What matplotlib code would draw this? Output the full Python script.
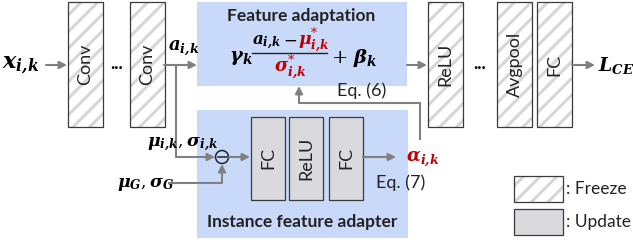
import matplotlib.pyplot as plt
import matplotlib.patches as mpatches

plt.rcParams['font.family'] = ['Lato', 'DejaVu Sans']
plt.rcParams['mathtext.fontset'] = 'dejavuserif'
plt.rcParams['hatch.linewidth'] = 2.2

# diagram content
frozen_labels = ['Conv', 'Conv', 'ReLU', 'Avgpool', 'FC']
adapter_labels = ['FC', 'ReLU', 'FC']
legend_labels = [': Freeze', ': Update']
title_top = 'Feature adaptation'
title_bottom = 'Instance feature adapter'
eq_labels = ['Eq. (6)', 'Eq. (7)']

# geometry (pixels, y downward)
frozen_x = [68, 130, 428, 497, 537]
adapter_x = [251, 289, 329]

BLUE = '#c9d9fa'
GRAY = '#d9d9de'
EDGE = '#3a3a3a'
HATCH = '#d6d6da'
ARROW = '#808080'
RED = '#c00000'
TXT = '#222222'

fig = plt.figure(figsize=(6.33, 2.47), dpi=100)
ax = fig.add_axes([0, 0, 1, 1])
ax.set_xlim(0, 633)
ax.set_ylim(247, 0)
ax.axis('off')


def box(x, y, w, h, fc, hatched=False, lw=0.9, ec=EDGE):
    if hatched:
        # hatch takes the edge colour, so draw the stripes first
        ax.add_patch(mpatches.Rectangle((x, y), w, h, facecolor=fc,
                                        edgecolor=HATCH, hatch='//',
                                        linewidth=0))
        fc = 'none'
    ax.add_patch(mpatches.Rectangle((x, y), w, h, facecolor=fc,
                                    edgecolor=ec, linewidth=lw))


def arrow(x0, y0, x1, y1):
    ax.annotate('', xy=(x1, y1), xytext=(x0, y0),
                arrowprops=dict(arrowstyle='-|>', color=ARROW, lw=1.5,
                                mutation_scale=11, shrinkA=0, shrinkB=0))


def line(xs, ys):
    ax.plot(xs, ys, color=ARROW, lw=1.5, solid_capstyle='butt')


def bi(s):
    return r'\mathbfit{%s}' % s


IK = bi('i{,}k')

# blue regions
box(197, 2, 210, 84, BLUE, lw=0, ec='none')
box(197, 110, 211, 128, BLUE, lw=0, ec='none')

# frozen backbone blocks
for lab, x in zip(frozen_labels, frozen_x):
    box(x, 2, 35, 125, 'white', hatched=True)
    ax.text(x + 17.5, 64.5, lab, rotation=90, ha='center', va='center',
            fontsize=13, color=TXT)

# adapter blocks
for lab, x in zip(adapter_labels, adapter_x):
    box(x, 117, 34, 83, GRAY)
    ax.text(x + 17, 158, lab, rotation=90, ha='center', va='center',
            fontsize=13, color=TXT)

# ellipses
ax.text(117, 63, '...', ha='center', va='center', fontsize=13,
        fontweight='bold')
ax.text(480, 63, '...', ha='center', va='center', fontsize=13,
        fontweight='bold')

# main path arrows
arrow(46, 65, 67, 65)
arrow(164, 65, 197, 65)
arrow(407, 65, 427, 65)
arrow(572, 65, 595, 65)

# statistics branch
line([176, 176], [65, 157])
arrow(176, 157, 215, 157)
line([168, 222], [183, 183])
arrow(222, 183, 222, 164)
arrow(229, 157, 250, 157)
arrow(363, 157, 396, 157)
# alpha feedback
line([420, 420], [140, 103])
line([420.75, 299], [103, 103])
arrow(299, 103, 299, 86)

# subtraction node
ax.add_patch(mpatches.Circle((222, 157), 6.5, facecolor='none',
                             edgecolor=TXT, lw=1.1))
ax.plot([217.5, 226.5], [157, 157], color=TXT, lw=1.1)

# math labels
ax.text(2, 65, r'$%s_{%s}$' % (bi('x'), IK), fontsize=16, va='center')
ax.text(168, 48, r'$%s_{%s}$' % (bi('a'), IK), fontsize=13, va='center')
ax.text(147, 145, r'$%s_{%s}, %s_{%s}$' % (bi(r'\mu'), IK,
                                          bi(r'\sigma'), IK),
        fontsize=12.5, va='center')
ax.text(117, 184, r'$%s_{%s}, %s_{%s}$' % (bi(r'\mu'), bi('G'),
                                          bi(r'\sigma'), bi('G')),
        fontsize=12.5, va='center')
ax.text(406, 159, r'$%s_{%s}$' % (bi(r'\alpha'), IK), fontsize=13,
        va='center', color=RED)
ax.text(598, 65, r'$%s_{%s}$' % (bi('L'), bi('CE')), fontsize=13.5,
        va='center')

# feature adaptation formula
ax.text(301, 16, title_top, ha='center', va='center', fontsize=12.5,
        fontweight='bold', color=TXT)
ax.text(229, 58, r'$%s_{%s}$' % (bi(r'\gamma'), bi('k')), fontsize=14,
        ha='left', va='center')
ax.text(252, 43, r'$%s_{%s}$' % (bi('a'), IK), fontsize=12,
        ha='left', va='center')
ax.text(290.5, 40, r'$-$', fontsize=12, ha='center', va='center')
ax.text(298, 41, r'$%s^{*}_{%s}$' % (bi(r'\mu'), IK), fontsize=12.5,
        ha='left', va='center', color=RED)
ax.plot([252, 327], [53, 53], color=TXT, lw=1.0)
ax.text(290, 66, r'$%s^{*}_{%s}$' % (bi(r'\sigma'), IK),
        fontsize=13, ha='center', va='center', color=RED)
ax.text(331, 58, r'$+\ %s_{%s}$' % (bi(r'\beta'), bi('k')), fontsize=14,
        ha='left', va='center')

ax.text(337, 91, eq_labels[0], ha='left', va='center', fontsize=13,
        color=TXT)
ax.text(376, 183, eq_labels[1], ha='left', va='center', fontsize=13,
        color=TXT)
ax.text(302, 222, title_bottom, ha='center', va='center', fontsize=12.5,
        fontweight='bold', color=TXT)

# legend
box(514, 176, 49, 26, 'white', hatched=True)
box(514, 209, 49, 26, GRAY)
ax.text(566, 189, legend_labels[0], ha='left', va='center', fontsize=12.5,
        color=TXT)
ax.text(566, 222, legend_labels[1], ha='left', va='center', fontsize=12.5,
        color=TXT)

fig.savefig('out.png', dpi=100)
